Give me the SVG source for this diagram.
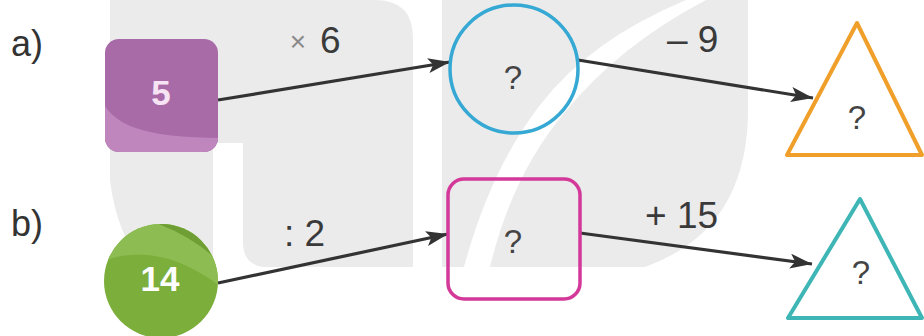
<svg xmlns="http://www.w3.org/2000/svg" width="924" height="336" viewBox="0 0 924 336">
<style>
.lbl{font-family:"Liberation Sans",Arial,sans-serif;font-size:37px;fill:#3a3a3a}
.side{font-family:"Liberation Sans",Arial,sans-serif;font-size:36px;fill:#333}
.q{font-family:"Liberation Sans",Arial,sans-serif;font-size:33px;fill:#444;text-anchor:middle}
.num{font-family:"Liberation Sans",Arial,sans-serif;font-size:35px;font-weight:bold;text-anchor:middle}
.wm{fill:#ebebeb}
.conn{stroke:#333;stroke-width:3.2;fill:none;marker-end:url(#arr)}
</style>
<defs>
<marker id="arr" markerUnits="userSpaceOnUse" markerWidth="24" markerHeight="16" refX="22" refY="7.5" orient="auto">
<path d="M0,0 L22,7.5 L0,15 L5,7.5 Z" fill="#333"/>
</marker>
<clipPath id="sqclip"><rect x="105" y="39" width="113" height="113" rx="14"/></clipPath>
<clipPath id="ciclip"><circle cx="161" cy="281" r="57"/></clipPath>
</defs>
<rect width="924" height="336" fill="#fff"/>
<g id="watermark">
<path class="wm" d="M110,0 H375 Q413,0 413,38 V267 H268 Q243,267 243,242 V143 H213 V300 L170,300 Q118,250 110,180 Z"/>
<path class="wm" d="M442,0 H686 Q590,40 540,105 Q490,170 464,267 H442 Z"/>
<path class="wm" d="M706,0 H748 V110 Q748,230 645,267 H490 Q512,175 565,112 Q620,45 706,0 Z"/>
</g>
<g id="labels">
<text class="side" x="11" y="56">a)</text>
<text class="side" x="11" y="236">b)</text>
</g>
<g id="connectors">
<line class="conn" x1="218" y1="100" x2="450" y2="62"/>
<line class="conn" x1="578" y1="60" x2="813" y2="98"/>
<line class="conn" x1="218" y1="283" x2="448" y2="234"/>
<line class="conn" x1="580" y1="233" x2="812" y2="264"/>
<text x="298" y="51" font-family="Liberation Sans,Arial,sans-serif" font-size="28" fill="#8a8a8a" text-anchor="middle">×</text>
<text class="lbl" x="320" y="53">6</text>
<text class="lbl" x="667" y="52">– 9</text>
<text class="lbl" x="284" y="246">: 2</text>
<text class="lbl" x="645" y="228">+ 15</text>
</g>
<g id="node-a-start">
<rect x="105" y="39" width="113" height="113" rx="14" fill="#a96aa8"/>
<path d="M100,95 C110,128 150,138 225,138 V160 H100 Z" fill="#be86bc" clip-path="url(#sqclip)"/>
<text class="num" x="161" y="105" fill="#f6e4f4">5</text>
</g>
<g id="node-a-mid">
<circle cx="514" cy="69" r="64" fill="none" stroke="#35a8d4" stroke-width="3.5"/>
<text class="q" x="513" y="89">?</text>
</g>
<g id="node-a-end">
<polygon points="857,23 787,155 922,155" fill="#fff" stroke="#f0a02a" stroke-width="4" stroke-linejoin="round"/>
<text class="q" x="857" y="129">?</text>
</g>
<g id="node-b-start">
<circle cx="161" cy="281" r="57" fill="#7cae3c"/>
<path d="M100,262 Q160,238 225,290 V210 H100 Z" fill="#8dbd52" clip-path="url(#ciclip)"/>
<path d="M130,215 Q190,230 225,268 V210 Z" fill="#6f9f34" clip-path="url(#ciclip)"/>
<text class="num" x="160" y="291" fill="#fff">14</text>
</g>
<g id="node-b-mid">
<rect x="448" y="179" width="132" height="120" rx="16" fill="none" stroke="#d4399a" stroke-width="3.5"/>
<text class="q" x="513" y="253">?</text>
</g>
<g id="node-b-end">
<polygon points="860,199 788,318 922,318" fill="#fff" stroke="#3db6b5" stroke-width="4" stroke-linejoin="round"/>
<text class="q" x="861" y="284">?</text>
</g>
</svg>
